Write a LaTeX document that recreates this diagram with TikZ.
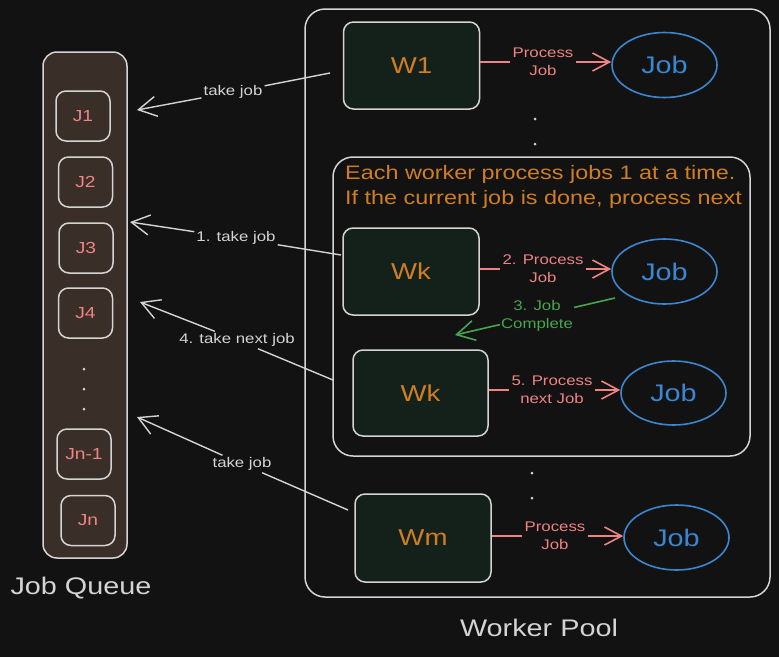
\documentclass[tikz,border=0pt]{standalone}
\usepackage{fontspec}
\setmainfont[FakeStretch=1.2]{Liberation Sans}
\usetikzlibrary{arrows.meta,shapes.geometric}
\definecolor{bg}{HTML}{121212}
\definecolor{strk}{HTML}{D4D4D4}
\definecolor{qfill}{HTML}{3A2E28}
\definecolor{wfill}{HTML}{14201A}
\definecolor{jred}{HTML}{F08383}
\definecolor{worange}{HTML}{D07E22}
\definecolor{jblue}{HTML}{3A86D0}
\definecolor{jgreen}{HTML}{45A64F}
\tikzset{
  box/.style={draw=strk, line width=1.5pt, rounded corners=10pt},
  container/.style={draw=strk, line width=1.5pt, rounded corners=20pt},
  jobitem/.style={box, fill=qfill, minimum width=54pt, minimum height=50pt, text=jred, font=\fontsize{16}{19}\selectfont, inner sep=0pt},
  worker/.style={box, fill=wfill, minimum width=136pt, minimum height=87pt, text=worange, font=\fontsize{23}{27}\selectfont, inner sep=0pt},
  jobell/.style={ellipse, draw=jblue, line width=1.6pt, minimum width=105pt, minimum height=65pt, text=jblue, font=\fontsize{24}{28}\selectfont, inner sep=0pt},
  redarrow/.style={draw=jred, line width=1.6pt, -{Straight Barb[length=17pt,width=18pt,line width=1.6pt]}},
  grayarrow/.style={draw=strk, line width=1.4pt, -{Straight Barb[length=18pt,width=20pt,line width=1.4pt]}},
  greenarrow/.style={draw=jgreen, line width=1.6pt, -{Straight Barb[length=18pt,width=20pt,line width=1.6pt]}},
  lbl/.style={fill=bg, inner sep=2pt, align=center, font=\fontsize{14}{18}\selectfont},
  redlbl/.style={lbl, text=jred},
  graylbl/.style={lbl, text=strk},
  greenlbl/.style={lbl, text=jgreen},
  dotmark/.style={circle, fill=strk, inner sep=0pt, minimum size=3pt},
  title/.style={text=strk, font=\fontsize{24}{28}\selectfont}
}
\begin{document}
\begin{tikzpicture}[x=1pt,y=-1pt]
\fill[bg] (0,0) rectangle (779,657);
\useasboundingbox (0,0) rectangle (779,657);

% Job queue
\node[container, rounded corners=14pt, fill=qfill, minimum width=84pt, minimum height=506pt] (queue) at (85,305) {};
\node[jobitem] (j1) at (83,116) {J1};
\node[jobitem] (j2) at (85.5,182) {J2};
\node[jobitem] (j3) at (86,248) {J3};
\node[jobitem] (j4) at (85.5,313) {J4};
\node[dotmark] (qd1) at (84,369) {};
\node[dotmark] (qd2) at (84,389) {};
\node[dotmark] (qd3) at (84,409) {};
\node[jobitem] (jn1) at (84,454) {Jn-1};
\node[jobitem] (jn) at (88,520.5) {Jn};
\node[title] (qtitle) at (81,588) {Job Queue};

% Worker pool
\node[container, minimum width=465pt, minimum height=588pt] (pool) at (537.5,303) {};
\node[title] (ptitle) at (539,628) {Worker Pool};

\node[worker] (w1) at (411.5,65.5) {W1};
\node[jobell] (job1) at (664.5,65) {Job};
\node[dotmark] (pd1) at (535,119) {};
\node[dotmark] (pd2) at (535,144) {};

% inner container
\node[container, minimum width=417pt, minimum height=299pt] (inner) at (541.5,306.5) {};
\node[anchor=north west, align=left, text=worange, inner sep=0pt, font=\fontsize{19.5}{25}\selectfont] (caption) at (345,165) {Each worker process jobs 1 at a time.\\If the current job is done, process next};

\node[worker] (wk1) at (411,271.5) {Wk};
\node[jobell] (job2) at (664.5,271.5) {Job};
\node[worker, minimum width=135pt, minimum height=86pt] (wk2) at (420.5,393) {Wk};
\node[jobell, minimum height=64pt] (job3) at (673.5,393) {Job};

\node[dotmark] (pd3) at (532,473) {};
\node[dotmark] (pd4) at (532,498) {};

\node[worker, minimum height=88pt] (wm) at (423,538) {Wm};
\node[jobell] (job4) at (676.5,537.5) {Job};

% red process arrows
\node[redlbl] (l1) at (543,62) {Process\\Job};
\draw[redarrow] (w1.east |- l1) -- (l1) -- (job1.west |- l1);
\node[redlbl] (l2) at (543,269) {2. Process\\Job};
\draw[redarrow] (wk1.east |- l2) -- (l2) -- (job2.west |- l2);
\node[redlbl] (l5) at (552,390) {5. Process\\next Job};
\draw[redarrow] (wk2.east |- l5) -- (l5) -- (job3.west |- l5);
\node[redlbl] (l4) at (555,536) {Process\\Job};
\draw[redarrow] (wm.east |- l4) -- (l4) -- (job4.west |- l4);

% green completion arrow
\coordinate (gs) at (615,298);
\coordinate (gt) at (455,335);
\node[greenlbl, inner sep=1pt] (lg) at (537,316) {3. Job\\Complete};
\draw[greenarrow] (gs) -- (lg) -- (gt);

% gray take-job arrows
\coordinate (s1) at (330,73);
\coordinate (t1) at (137,110);
\node[graylbl] (g1) at (233,92) {take job};
\draw[grayarrow] (s1) -- (g1) -- (t1);

\coordinate (s2) at (341,255);
\coordinate (t2) at (130,222);
\node[graylbl] (g2) at (236,238) {1. take job};
\draw[grayarrow] (s2) -- (g2) -- (t2);

\coordinate (s3) at (333,380);
\coordinate (t3) at (140,302);
\node[graylbl] (g3) at (237,340) {4. take next job};
\draw[grayarrow] (s3) -- (g3) -- (t3);

\coordinate (s4) at (348,510);
\coordinate (t4) at (137,417);
\node[graylbl] (g4) at (242,464) {take job};
\draw[grayarrow] (s4) -- (g4) -- (t4);
\end{tikzpicture}
\end{document}
